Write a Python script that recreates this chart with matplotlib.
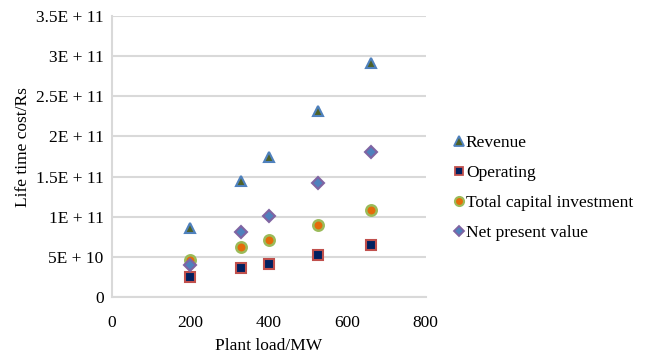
import matplotlib
matplotlib.use("Agg")
import matplotlib.pyplot as plt
from matplotlib.lines import Line2D

plt.rcParams['font.family'] = ['Liberation Serif', 'DejaVu Serif']

plant_load = [200, 330, 400, 525, 660]
revenue = [8.64e10, 1.44e11, 1.74e11, 2.32e11, 2.91e11]
operating = [2.46e10, 3.58e10, 4.15e10, 5.27e10, 6.48e10]
total_capital = [4.61e10, 6.27e10, 7.15e10, 8.94e10, 1.089e11]
npv = [3.95e10, 8.07e10, 1.014e11, 1.42e11, 1.81e11]

series_names = ["Revenue", "Operating", "Total capital investment", "Net present value"]
y_ticks = [0, 5e10, 1e11, 1.5e11, 2e11, 2.5e11, 3e11, 3.5e11]
y_tick_labels = ["0", "5E + 10", "1E + 11", "1.5E + 11", "2E + 11", "2.5E + 11", "3E + 11", "3.5E + 11"]
x_ticks = [0, 200, 400, 600, 800]

fig = plt.figure(figsize=(6.47, 3.57), dpi=100)
ax = fig.add_axes([0.173, 0.168, 0.485, 0.787])

styles = [
    dict(marker='^', ms=7.5, mfc='#4F6228', mec='#4F81BD', mew=1.5),
    dict(marker='s', ms=7, mfc='#002060', mec='#C0504D', mew=1.5),
    dict(marker='o', ms=7.5, mfc='#E46C0A', mec='#9BBB59', mew=1.8),
    dict(marker='D', ms=6, mfc='#4F81BD', mec='#8064A2', mew=1.5),
]
leg_styles = [
    dict(marker='^', ms=6.5, mfc='#4F6228', mec='#4F81BD', mew=1.3),
    dict(marker='s', ms=6, mfc='#002060', mec='#C0504D', mew=1.3),
    dict(marker='o', ms=6.5, mfc='#E46C0A', mec='#9BBB59', mew=1.5),
    dict(marker='D', ms=5, mfc='#4F81BD', mec='#8064A2', mew=1.3),
]
data = [revenue, operating, total_capital, npv]
handles = []
for name, ys, st, lst in zip(series_names, data, styles, leg_styles):
    ax.plot(plant_load, ys, linestyle='none', zorder=3, **st)
    handles.append(Line2D([], [], linestyle='none', label=name, **lst))

ax.set_xlim(0, 800)
ax.set_ylim(0, 3.5e11)
ax.set_xticks(x_ticks)
ax.set_yticks(y_ticks)
ax.set_yticklabels(y_tick_labels)
ax.tick_params(length=0, labelsize=12.5)
ax.tick_params(axis='y', pad=6)
ax.tick_params(axis='x', pad=13)
ax.yaxis.grid(True, color='#D9D9D9', linewidth=1.5)
ax.set_axisbelow(True)
for s in ['top', 'right']:
    ax.spines[s].set_visible(False)
for s in ['left', 'bottom']:
    ax.spines[s].set_color('#D9D9D9')
    ax.spines[s].set_linewidth(1.5)

ax.set_xlabel("Plant load/MW", fontsize=12.5)
ax.xaxis.set_label_coords(0.5, -0.146)
ax.set_ylabel("Life time cost/Rs", fontsize=12.5)
ax.yaxis.set_label_coords(-0.258, 0.535)

fig.legend(handles=handles, loc='center left', bbox_to_anchor=(0.69, 0.473),
           frameon=False, fontsize=12.5, handlelength=0.6, handletextpad=0.12,
           labelspacing=0.8, borderaxespad=0)

fig.savefig("out.png", dpi=100)
